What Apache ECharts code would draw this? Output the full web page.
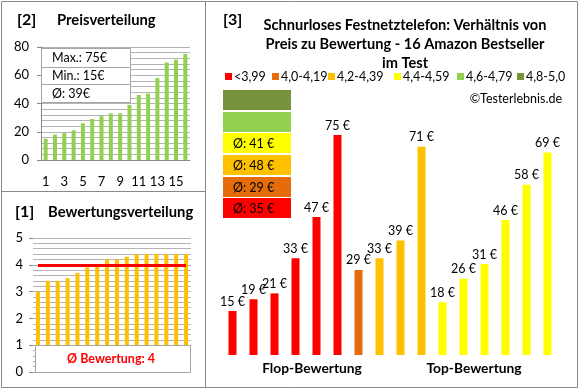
<!DOCTYPE html>
<html><head><meta charset="utf-8">
<script src="https://cdn.jsdelivr.net/npm/echarts@6/dist/echarts.min.js"></script>
<style>html,body{margin:0;padding:0;background:#fff}#c{width:580px;height:390px}</style>
</head><body><div id="c"></div>
<script>
// ---- data ----
const priceCats = ['1','2','3','4','5','6','7','8','9','10','11','12','13','14','15','16'];
const prices = [15,18,19,21,26,29,31,33,33,39,46,47,58,69,71,75];
const priceTicks = [0,20,40,60,80];
const ratings = [3.0,3.4,3.4,3.5,3.7,3.9,4.0,4.2,4.2,4.3,4.4,4.4,4.4,4.4,4.4,4.4];
const ratingTicks = [0,1,2,3,4,5];
const productPrices = [15,19,21,33,47,75,29,33,39,71,18,26,31,46,58,69];
const productGroup = [0,0,0,0,0,0,1,2,2,2,3,3,3,3,3,3];
const groupLabels = ['<3,99','4,0-4,19','4,2-4,39','4,4-4,59','4,6-4,79','4,8-5,0'];
const groupColors = ['#ff0000','#e46c0a','#ffc000','#ffff00','#92d050','#77933c'];
const sectionLabels = ['Flop-Bewertung','Top-Bewertung'];
const titleLines = ['Schnurloses Festnetztelefon: Verhältnis von','Preis zu Bewertung - 16 Amazon Bestseller','im Test'];

// ---- derived ----
const FONT = 'Lato, "Open Sans", sans-serif';
const maxP = Math.max(...prices), minP = Math.min(...prices);
const avgP = Math.round(prices.reduce((a,b)=>a+b,0)/prices.length);
const avgR = Math.round(ratings.reduce((a,b)=>a+b,0)/ratings.length*10)/10;
const groupAvg = groupLabels.map((_,g)=>{
  const v = productPrices.filter((p,i)=>productGroup[i]===g);
  return v.length ? Math.round(v.reduce((a,b)=>a+b,0)/v.length) : null;
});
const GRAY = '#888';
const GRID = '#b4b4b4';

const el = [];
el.push({type:'rect',shape:{x:1.5,y:1.5,width:576,height:386},style:{fill:'none',stroke:GRAY,lineWidth:1},z:1});
el.push({type:'line',shape:{x1:205.5,y1:1.5,x2:205.5,y2:387.5},style:{stroke:GRAY,lineWidth:1},z:1});
el.push({type:'line',shape:{x1:1.5,y1:191.5,x2:205.5,y2:191.5},style:{stroke:GRAY,lineWidth:1},z:1});
function txt(t,x,y,font,align){return {type:'text',x:x,y:y,z:100,style:{text:t,font:font,fill:'#000',textAlign:align||'left',textVerticalAlign:'middle'}};}
el.push(txt('[2]',17,20,'bold 16px '+FONT));
el.push(txt('Preisverteilung',57,20,'bold 14.8px '+FONT));
el.push(txt('[1]',15,212,'bold 16px '+FONT));
el.push(txt('Bewertungsverteilung',48,212,'bold 14.8px '+FONT));
el.push(txt('[3]',223,20,'bold 16px '+FONT));
const tys=[25,44,63];
titleLines.forEach((t,i)=>el.push(txt(t,405,tys[i],'bold 14.6px '+FONT,'center')));
const lx=[225,272,328,394,457,517];
groupLabels.forEach((l,i)=>{
  el.push({type:'rect',shape:{x:lx[i],y:73,width:7,height:7},style:{fill:groupColors[i]},z:100});
  el.push(txt(l,lx[i]+9,77,'12.5px '+FONT));
});
el.push(txt('©Testerlebnis.de',562,99,'12.5px '+FONT,'right'));
const rowsY=[90,112,133,155,177,198];
for(let r=0;r<6;r++){
  const g=5-r;
  el.push({type:'rect',shape:{x:223,y:rowsY[r],width:68,height:20},style:{fill:groupColors[g]},z:100});
  if(groupAvg[g]!==null) el.push(txt('Ø: '+groupAvg[g]+' €',233,rowsY[r]+10.5,'12.5px '+FONT));
}
el.push(txt(sectionLabels[0],312,369,'bold 13.8px '+FONT,'center'));
el.push(txt(sectionLabels[1],474,369,'bold 13.8px '+FONT,'center'));
const info=['Max.: '+maxP+'€','Min.: '+minP+'€','Ø: '+avgP+'€'];
const iy=[48,67,84,102];
for(let i=0;i<3;i++){
  el.push({type:'rect',shape:{x:41.5,y:iy[i]+0.5,width:89,height:iy[i+1]-iy[i]},style:{fill:'#fff',stroke:'#a6a6a6',lineWidth:1},z:50});
  el.push(txt(info[i],52,(iy[i]+iy[i+1])/2+0.5,'12.5px '+FONT));
}
el.push({type:'rect',shape:{x:35.5,y:345.5,width:155,height:27},style:{fill:'#fff',stroke:'#a6a6a6',lineWidth:1},z:50});
const rb=txt('Ø Bewertung: '+String(avgR).replace('.',','),111,359,'bold 12.5px '+FONT,'center');rb.style.fill='#ff0000';el.push(rb);

const chart = echarts.init(document.getElementById('c'),null,{renderer:'canvas'});
chart.setOption({
  animation:false,
  textStyle:{fontFamily:FONT},
  grid:[
    {left:41,top:47,width:149,height:113},
    {left:33,top:238,width:158,height:134},
    {left:222,top:120.3,width:336,height:234.7}
  ],
  xAxis:[
    {gridIndex:0,type:'category',data:priceCats,axisLine:{lineStyle:{color:GRAY}},axisTick:{show:false},
     axisLabel:{interval:1,margin:15,fontSize:13,color:'#000',fontFamily:FONT}},
    {gridIndex:1,type:'category',data:priceCats,axisLine:{show:false},axisTick:{show:false},axisLabel:{show:false}},
    {gridIndex:2,type:'category',data:priceCats,axisLine:{show:false},axisTick:{show:false},axisLabel:{show:false}}
  ],
  yAxis:[
    {gridIndex:0,type:'value',min:priceTicks[0],max:priceTicks[priceTicks.length-1],interval:priceTicks[1]-priceTicks[0],
     axisLine:{show:true,lineStyle:{color:GRAY}},axisTick:{show:true,length:4,lineStyle:{color:GRAY}},
     axisLabel:{margin:12,fontSize:13,color:'#000',fontFamily:FONT},
     splitLine:{lineStyle:{color:GRID}},minorTick:{show:false,splitNumber:5},minorSplitLine:{show:true,lineStyle:{color:GRID}}},
    {gridIndex:1,type:'value',min:ratingTicks[0],max:ratingTicks[ratingTicks.length-1],interval:1,
     axisLine:{show:false},axisTick:{show:true,length:4,lineStyle:{color:GRAY}},
     axisLabel:{margin:10,fontSize:13,color:'#000',fontFamily:FONT},
     splitLine:{lineStyle:{color:GRID}},minorTick:{show:false,splitNumber:5},minorSplitLine:{show:true,lineStyle:{color:GRID}}},
    {gridIndex:2,type:'value',min:0,max:80,show:false,splitLine:{show:false}}
  ],
  series:[
    {type:'bar',xAxisIndex:0,yAxisIndex:0,data:prices,barWidth:4,itemStyle:{color:'#92d050'}},
    {type:'bar',xAxisIndex:1,yAxisIndex:1,data:ratings,barWidth:4,itemStyle:{color:'#ffc000'},
     markLine:{silent:true,symbol:'none',label:{show:false},lineStyle:{color:'#ff0000',width:3,type:'solid'},
       data:[[{coord:[0,avgR]},{coord:[priceCats.length-1,avgR]}]]}},
    {type:'bar',xAxisIndex:2,yAxisIndex:2,barWidth:8,
     data:productPrices.map((v,i)=>({value:v,itemStyle:{color:groupColors[productGroup[i]]}})),
     label:{show:true,position:'top',distance:3,formatter:p=>p.value+' €',fontSize:12.5,color:'#000',fontFamily:FONT}}
  ],
  graphic:{elements:el}
});
</script></body></html>
